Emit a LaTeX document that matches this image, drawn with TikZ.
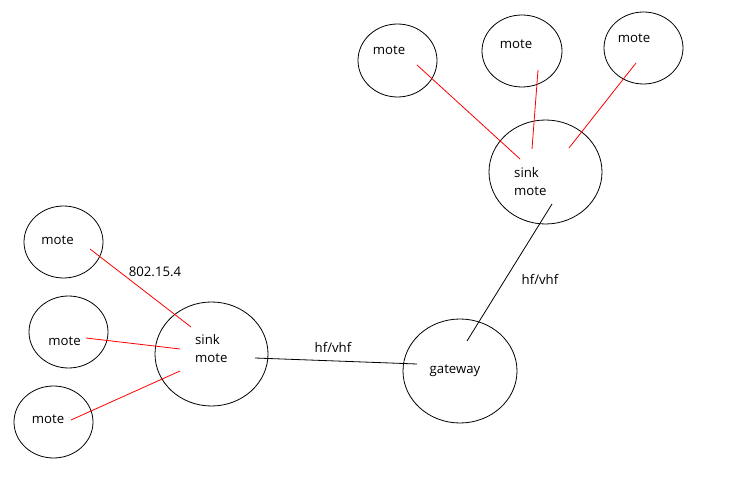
\documentclass[tikz,border=0pt]{standalone}
\usepackage{fontspec}
\setmainfont{Open Sans}
\usetikzlibrary{shapes.geometric}
\begin{document}
\begin{tikzpicture}[x=1pt,y=-1pt,
  blob/.style={draw=black,line width=0.8pt,ellipse,inner sep=0pt},
  lbl/.style={font=\fontsize{13.2}{15}\selectfont,inner sep=0pt,text=black},
  redlink/.style={draw=red,line width=0.8pt},
  blacklink/.style={draw=black,line width=0.8pt}]
\useasboundingbox[fill=white] (0,0) rectangle (734,494);
% left cluster
\node[blob,minimum width=79,minimum height=72] (m1) at (63.5,242) {};
\node[blob,minimum width=79,minimum height=72] (m2) at (68.5,332) {};
\node[blob,minimum width=79,minimum height=72] (m3) at (53.5,422) {};
\node[blob,minimum width=113,minimum height=104] (s1) at (211.5,354) {};
\node[lbl] (t1) at (57.5,240) {mote};
\node[lbl] (t2) at (64.5,341) {mote};
\node[lbl] (t3) at (48,419) {mote};
\node[lbl,anchor=west] (s1a) at (195,340) {sink};
\node[lbl,anchor=west] (s1b) at (195,358) {mote};
% top cluster
\node[blob,minimum width=79,minimum height=73] (ma) at (397.5,60.5) {};
\node[blob,minimum width=80,minimum height=72] (mb) at (522,51) {};
\node[blob,minimum width=79,minimum height=72] (mc) at (643.5,48) {};
\node[blob,minimum width=113,minimum height=104] (s2) at (545.5,172) {};
\node[lbl] (ta) at (389,50) {mote};
\node[lbl] (tb) at (516,44) {mote};
\node[lbl] (tc) at (634,38) {mote};
\node[lbl,anchor=west] (s2a) at (514,173) {sink};
\node[lbl,anchor=west] (s2b) at (514,191) {mote};
% gateway
\node[blob,minimum width=114,minimum height=104] (gw) at (460,371) {};
\node[lbl] (tg) at (455,371) {gateway};
% link end points
\coordinate (p1) at (90,249);   \coordinate (q1) at (191,327);
\coordinate (p2) at (86,338);   \coordinate (q2) at (180,349);
\coordinate (p3) at (71,420);   \coordinate (q3) at (180,371);
\coordinate (pa) at (417,65);   \coordinate (qa) at (520,159);
\coordinate (pb) at (538,70);   \coordinate (qb) at (532,149);
\coordinate (pc) at (636,63);   \coordinate (qc) at (569,148);
\coordinate (h1) at (255,358);  \coordinate (h2) at (417,364);
\coordinate (g1) at (467,341);  \coordinate (g2) at (552,204);
% links
\draw[redlink] (p1) -- (q1);
\draw[redlink] (p2) -- (q2);
\draw[redlink] (p3) -- (q3);
\draw[redlink] (pa) -- (qa);
\draw[redlink] (pb) -- (qb);
\draw[redlink] (pc) -- (qc);
\draw[blacklink] (h1) -- (h2);
\draw[blacklink] (g1) -- (g2);
% labels
\node[lbl] (l1) at (155,272) {802.15.4};
\node[lbl] (l2) at (333,347) {hf/vhf};
\node[lbl] (l3) at (540,279) {hf/vhf};
\end{tikzpicture}
\end{document}
